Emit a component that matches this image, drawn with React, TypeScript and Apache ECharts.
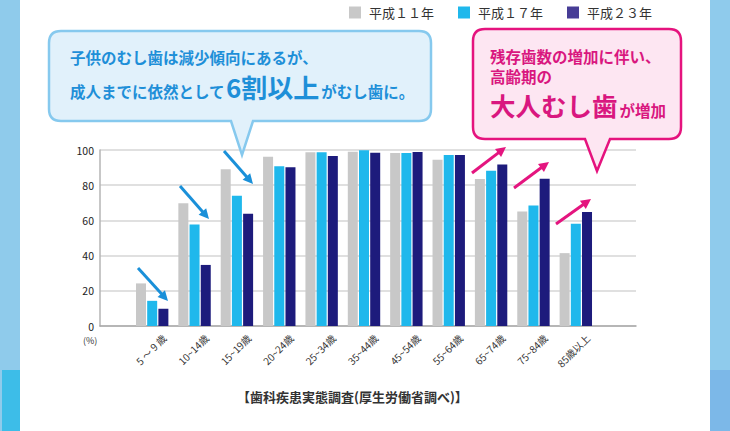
import React, { useEffect, useRef } from "react";
import * as echarts from "echarts";

const categories = ["5 ～ 9 歳", "10~14歳", "15~19歳", "20~24歳", "25~34歳", "35~44歳", "45~54歳", "55~64歳", "65~74歳", "75~84歳", "85歳以上"];
const seriesNames = ["平成１１年", "平成１７年", "平成２３年"];
const h11 = [24.2, 69.8, 89.0, 96.2, 98.7, 99.0, 98.3, 94.5, 83.5, 65.0, 41.4];
const h17 = [14.3, 57.7, 74.0, 90.8, 98.7, 99.8, 98.3, 97.2, 88.2, 68.4, 58.1];
const h23 = [9.8, 34.7, 63.8, 90.2, 96.6, 98.5, 98.9, 97.2, 91.7, 83.6, 64.8];
const yTicks = [0, 20, 40, 60, 80, 100];

const barColors = ["#c8c8c8", "#1fb8ec", "#1d1b7c"];
const legendColors = ["#c8c8c8", "#1fb8ec", "#473d96"];

const FONT = "'Noto Sans CJK JP', 'Noto Sans', sans-serif";

const BLUE_BUBBLE =
  "M61,31 H419 Q431,31 431,43 V109 Q431,121 419,121 H253 L242,155 L231,121 H61 Q49,121 49,109 V43 Q49,31 61,31 Z";
const PINK_BUBBLE =
  "M485,29 H669 Q681,29 681,41 V127 Q681,139 669,139 H610 L597,171 L585,139 H485 Q473,139 473,127 V41 Q473,29 485,29 Z";

let registered = false;
function registerShapes() {
  if (registered) return;
  registered = true;
  echarts.graphic.registerShape("blueBubble", echarts.graphic.extendPath(BLUE_BUBBLE, {}) as any);
  echarts.graphic.registerShape("pinkBubble", echarts.graphic.extendPath(PINK_BUBBLE, {}) as any);
}

function arrow(x1: number, y1: number, x2: number, y2: number, color: string): any {
  const dx = x2 - x1;
  const dy = y2 - y1;
  const len = Math.sqrt(dx * dx + dy * dy);
  const ux = dx / len;
  const uy = dy / len;
  const hl = 10;
  const hw = 5;
  const bx = x2 - ux * hl;
  const by = y2 - uy * hl;
  const px = -uy;
  const py = ux;
  return {
    type: "group",
    z: 50,
    children: [
      {
        type: "line",
        z: 50,
        shape: { x1, y1, x2: x2 - ux * 6, y2: y2 - uy * 6 },
        style: { stroke: color, lineWidth: 3 },
      },
      {
        type: "polygon",
        z: 50,
        shape: {
          points: [
            [x2, y2],
            [bx + px * hw, by + py * hw],
            [bx - px * hw, by - py * hw],
          ],
        },
        style: { fill: color },
      },
    ],
  };
}

export default function App() {
  const ref = useRef<HTMLDivElement>(null);

  useEffect(() => {
    document.body.style.margin = "0";
    registerShapes();
    const chart = echarts.init(ref.current!, null, { renderer: "svg" });
    const blueText = "#1e8fd8";
    const pinkText = "#d9177f";
    const option: any = {
      animation: false,
      backgroundColor: "#ffffff",
      textStyle: { fontFamily: FONT },
      legend: {
        top: 1,
        left: 344,
        itemWidth: 12,
        itemHeight: 12,
        itemGap: 24,
        icon: "rect",
        textStyle: { fontSize: 13, color: "#333", fontFamily: FONT, padding: [0, 0, 0, 3] },
        data: seriesNames.map((n, i) => ({ name: n, itemStyle: { color: legendColors[i] } })),
      },
      grid: [
        { left: 100, right: 94, top: 150, bottom: 105 },
        { left: 131, width: 466, top: 150, bottom: 105 },
        { left: 143, width: 466, top: 150, bottom: 105 },
      ],
      xAxis: [
        {
          type: "value",
          gridIndex: 0,
          min: 0,
          max: 1,
          axisLine: { show: true, onZero: false, lineStyle: { color: "#a8a8a8", width: 1.5 } },
          axisTick: { show: false },
          axisLabel: { show: false },
          splitLine: { show: false },
        },
        {
          type: "category",
          gridIndex: 1,
          data: categories,
          axisLine: { show: false },
          axisTick: { show: false },
          axisLabel: { show: false },
        },
        {
          type: "category",
          gridIndex: 2,
          data: categories,
          axisLine: { show: false },
          axisTick: { show: false },
          axisLabel: {
            interval: 0,
            rotate: 45,
            fontSize: 10,
            color: "#333",
            margin: 10,
            fontFamily: FONT,
          },
        },
      ],
      yAxis: [
        {
          type: "value",
          gridIndex: 0,
          min: 0,
          max: 100,
          interval: 20,
          axisLine: { show: true, lineStyle: { color: "#b5b5b5", width: 1.5 } },
          axisTick: { show: false },
          axisLabel: {
            fontSize: 10.5,
            lineHeight: 12,
            color: "#222",
            margin: 6,
            fontFamily: FONT,
            formatter: (v: number) => (yTicks.indexOf(v) >= 0 ? String(v) : ""),
          },
          splitLine: { show: true, lineStyle: { color: "#d6d6d6", width: 1.5 } },
        },
        { type: "value", gridIndex: 1, min: 0, max: 100, show: false },
        { type: "value", gridIndex: 2, min: 0, max: 100, show: false },
      ],
      series: [h11, h17, h23].map((d, i) => ({
        name: seriesNames[i],
        type: "bar",
        xAxisIndex: 1,
        yAxisIndex: 1,
        data: d,
        barWidth: 10,
        barGap: "12%",
        itemStyle: { color: barColors[i] },
        z: 3,
      })),
      graphic: [
        { type: "rect", z: 1, shape: { x: 0, y: 0, width: 20, height: 431 }, style: { fill: "#8fcbeb" } },
        { type: "rect", z: 1, shape: { x: 2, y: 370, width: 18, height: 61 }, style: { fill: "#3dbde8" } },
        { type: "rect", z: 1, shape: { x: 710, y: 0, width: 20, height: 431 }, style: { fill: "#8fcbec" } },
        { type: "rect", z: 1, shape: { x: 710, y: 370, width: 20, height: 61 }, style: { fill: "#7cb8e8" } },
        {
          type: "blueBubble",
          z: 100,
          x: 0,
          y: 0,
          scaleX: 1,
          scaleY: 1,
          style: { fill: "#e1f1fb", stroke: "#86c9ee", lineWidth: 2.5 },
        },
        {
          type: "text",
          z: 101,
          left: 70,
          top: 49,
          style: { text: "子供のむし歯は減少傾向にあるが、", fontSize: 15.5, fontWeight: "bold", fill: blueText, fontFamily: FONT },
        },
        {
          type: "text",
          z: 101,
          left: 70,
          top: 73,
          style: {
            text: "{a|成人までに依然として}{b|6割以上}{a|がむし歯に。}",
            fontFamily: FONT,
            fill: blueText,
            rich: {
              a: { fontSize: 15.5, fontWeight: "bold", fill: blueText, verticalAlign: "bottom", lineHeight: 26, fontFamily: FONT },
              b: { fontSize: 26, fontWeight: "bold", fill: blueText, verticalAlign: "bottom", lineHeight: 30, fontFamily: FONT, padding: [0, 2, 0, 1] },
            },
          },
        },
        {
          type: "pinkBubble",
          z: 100,
          x: 0,
          y: 0,
          scaleX: 1,
          scaleY: 1,
          style: { fill: "#fde6f2", stroke: "#e5137e", lineWidth: 2.5 },
        },
        {
          type: "text",
          z: 101,
          left: 490,
          top: 48,
          style: { text: "残存歯数の増加に伴い、", fontSize: 15.5, fontWeight: "bold", fill: pinkText, fontFamily: FONT },
        },
        {
          type: "text",
          z: 101,
          left: 490,
          top: 68,
          style: { text: "高齢期の", fontSize: 15.5, fontWeight: "bold", fill: pinkText, fontFamily: FONT },
        },
        {
          type: "text",
          z: 101,
          left: 490,
          top: 92,
          style: {
            text: "{b|大人むし歯}{a|が増加}",
            fontFamily: FONT,
            fill: pinkText,
            rich: {
              a: { fontSize: 15.5, fontWeight: "bold", fill: pinkText, verticalAlign: "bottom", lineHeight: 28, fontFamily: FONT },
              b: { fontSize: 25.5, fontWeight: "bold", fill: pinkText, verticalAlign: "bottom", lineHeight: 30, fontFamily: FONT, padding: [0, 2, 0, 0] },
            },
          },
        },
        arrow(138, 268, 168, 301, "#1a90d9"),
        arrow(180, 186, 209, 219, "#1a90d9"),
        arrow(224, 151, 253, 184, "#1a90d9"),
        arrow(472, 173, 506, 147, "#e4157f"),
        arrow(514, 188, 549, 162, "#e4157f"),
        arrow(556, 224, 591, 199, "#e4157f"),
        {
          type: "text",
          z: 10,
          left: 83,
          top: 335,
          style: { text: "(%)", fontSize: 9, lineHeight: 10, fill: "#333", fontFamily: FONT },
        },
        {
          type: "text",
          z: 10,
          left: 237,
          top: 390,
          style: { text: "【歯科疾患実態調査(厚生労働省調べ)】", fontSize: 13, fontWeight: "bold", fill: "#333", fontFamily: FONT },
        },
      ],
    };
    chart.setOption(option);
    return () => chart.dispose();
  }, []);

  return <div ref={ref} style={{ width: 730, height: 431 }} />;
}
